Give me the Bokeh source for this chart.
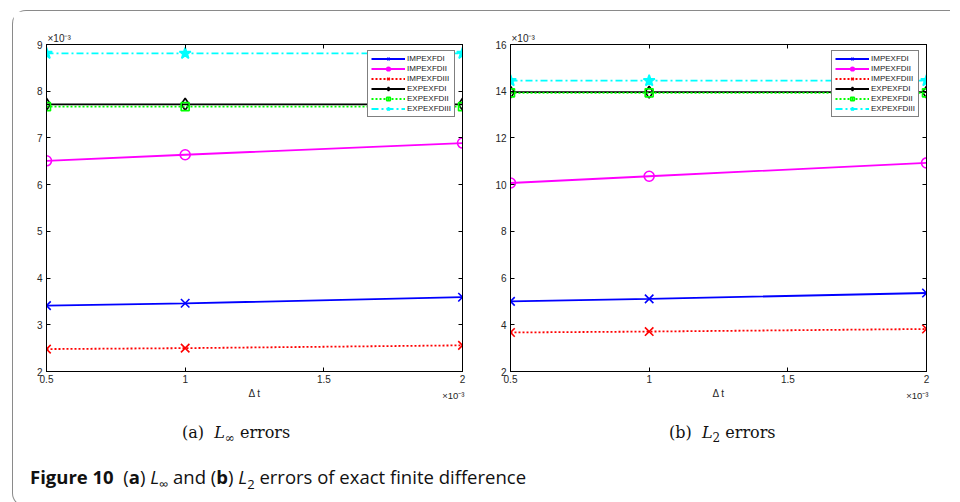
from bokeh.plotting import figure
from bokeh.models import (Range1d, LinearAxis, FixedTicker, Legend, LegendItem,
                          Div, NumeralTickFormatter, Title)
from bokeh.layouts import column, row
from bokeh.embed import file_html
from bokeh.resources import INLINE

# ---------------- data ----------------
dt = [0.5, 1.0, 2.0]                      # Delta t (x 10^-3)
x_ticks = [0.5, 1.0, 1.5, 2.0]
series_names = ["IMPEXFDI", "IMPEXFDII", "IMPEXFDIII",
                "EXPEXFDI", "EXPEXFDII", "EXPEXFDIII"]

# (a) L_inf errors (x 10^-3)
linf_impexfdi = [3.41, 3.46, 3.59]
linf_impexfdii = [6.51, 6.64, 6.89]
linf_impexfdiii = [2.48, 2.50, 2.56]
linf_expexfdi = [7.72, 7.72, 7.72]
linf_expexfdii = [7.67, 7.67, 7.67]
linf_expexfdiii = [8.81, 8.81, 8.81]
linf_yticks = [2, 3, 4, 5, 6, 7, 8, 9]

# (b) L_2 errors (x 10^-3)
l2_impexfdi = [5.00, 5.11, 5.36]
l2_impexfdii = [10.07, 10.36, 10.93]
l2_impexfdiii = [3.67, 3.71, 3.82]
l2_expexfdi = [13.96, 13.96, 13.96]
l2_expexfdii = [13.93, 13.93, 13.93]
l2_expexfdiii = [14.45, 14.45, 14.45]
l2_yticks = [2, 4, 6, 8, 10, 12, 14, 16]

linf_series = [linf_impexfdi, linf_impexfdii, linf_impexfdiii,
               linf_expexfdi, linf_expexfdii, linf_expexfdiii]
l2_series = [l2_impexfdi, l2_impexfdii, l2_impexfdiii,
             l2_expexfdi, l2_expexfdii, l2_expexfdiii]

# ---------------- styles ----------------
STYLES = [
    dict(color="#0000ff", dash="solid", marker="x", size=12, fill=None),
    dict(color="#ff00ff", dash="solid", marker="circle", size=10, fill=None),
    dict(color="#ff0000", dash="2 2", marker="x", size=12, fill=None),
    dict(color="#000000", dash="solid", marker="diamond", size=12, fill=None),
    dict(color="#00ff00", dash="2 2", marker="square", size=8, fill=None),
    dict(color="#00ffff", dash="7 3 2 3", marker="star", size=12, fill="#00ffff"),
]

TICK_FONT = "Liberation Sans"
TICK_COLOR = "#262626"


def make_panel(series, yticks, ymax, left_border):
    p = figure(frame_width=416, frame_height=327,
               x_range=Range1d(0.5, 2.0), y_range=Range1d(2, ymax),
               output_backend="svg", toolbar_location=None,
               min_border_left=left_border, min_border_right=14,
               min_border_top=33, min_border_bottom=30,
               background_fill_color="white", border_fill_color="white")
    p.grid.visible = False
    p.outline_line_color = "black"
    p.outline_line_width = 1

    for ax in (p.xaxis[0], p.yaxis[0]):
        ax.major_tick_in = 4
        ax.major_tick_out = 0
        ax.minor_tick_line_color = None
        ax.axis_line_color = "black"
        ax.major_tick_line_color = "black"
        ax.major_label_text_font = TICK_FONT
        ax.major_label_text_font_size = "10px"
        ax.major_label_text_color = TICK_COLOR
    p.xaxis[0].ticker = FixedTicker(ticks=x_ticks)
    p.xaxis[0].formatter = NumeralTickFormatter(format="0.[0]")
    p.xaxis[0].major_label_standoff = 3
    p.xaxis[0].axis_label = "\u0394 t"
    p.xaxis[0].axis_label_text_font = TICK_FONT
    p.xaxis[0].axis_label_text_font_style = "normal"
    p.xaxis[0].axis_label_text_font_size = "10px"
    p.xaxis[0].axis_label_text_color = TICK_COLOR
    p.xaxis[0].axis_label_standoff = 2
    p.yaxis[0].ticker = FixedTicker(ticks=yticks)
    p.yaxis[0].formatter = NumeralTickFormatter(format="0")
    p.yaxis[0].major_label_standoff = 4

    top = LinearAxis(ticker=FixedTicker(ticks=x_ticks), major_tick_in=4, major_tick_out=0,
                     minor_tick_line_color=None, major_label_text_font_size="1px",
                     major_label_text_alpha=0, major_label_standoff=0)
    right = LinearAxis(ticker=FixedTicker(ticks=yticks), major_tick_in=4, major_tick_out=0,
                       minor_tick_line_color=None, major_label_text_font_size="1px",
                       major_label_text_alpha=0, major_label_standoff=0)
    p.add_layout(top, "above")
    p.add_layout(right, "right")

    # x 10^-3 multiplier above the y axis
    p.add_layout(Title(text="\u00d710\u207b\u00b3", align="left", offset=1,
                       text_font=TICK_FONT, text_font_size="10px",
                       text_font_style="normal", text_color=TICK_COLOR,
                       standoff=1), "above")
    # x 10^-3 multiplier at the right end of the x axis
    p.add_layout(Title(text="\u00d710\u207b\u00b3", align="right", offset=-2,
                       vertical_align="top",
                       text_font=TICK_FONT, text_font_size="9.5px",
                       text_font_style="normal", text_color=TICK_COLOR,
                       standoff=-24), "below")

    items = []
    for name, ys, st in zip(series_names, series, STYLES):
        lr = p.line(dt, ys, line_color=st["color"], line_width=1.8, line_dash=st["dash"])
        sr = p.scatter(dt, ys, marker=st["marker"], size=st["size"],
                       line_color=st["color"], line_width=1.6,
                       fill_color=st["fill"])
        items.append(LegendItem(label=name, renderers=[lr, sr]))

    legend = Legend(items=items, location=(321, 254),
                    label_text_font=TICK_FONT, label_text_font_size="8px",
                    label_text_color="#222222",
                    glyph_width=34, glyph_height=9, label_height=9,
                    label_standoff=2, spacing=1, padding=3, margin=0,
                    border_line_color="black", border_line_width=1,
                    background_fill_color="white", background_fill_alpha=1)
    p.add_layout(legend, "center")
    return p


p1 = make_panel(linf_series, linf_yticks, 9, 33)
p2 = make_panel(l2_series, l2_yticks, 16, 34)

caption_html = """
<div style="position:relative;width:927px;height:95px;">
 <div style="position:absolute;left:164px;top:16px;font-family:'DejaVu Serif';font-size:16px;color:#111;white-space:nowrap;">
   (a)&nbsp;&nbsp;<i>L</i><sub style="font-size:12px;">&infin;</sub> errors</div>
 <div style="position:absolute;left:651px;top:16px;font-family:'DejaVu Serif';font-size:16px;color:#111;white-space:nowrap;">
   (b)&nbsp;&nbsp;<i>L</i><sub style="font-size:12px;">2</sub> errors</div>
 <div style="position:absolute;left:12px;top:58px;font-family:'Open Sans';font-size:18.5px;color:#111;white-space:nowrap;">
   <b>Figure 10</b>&nbsp;&nbsp;(<b>a</b>) <i>L</i><sub style="font-size:13px;">&infin;</sub> and (<b>b</b>) <i>L</i><sub style="font-size:13px;">2</sub> errors of exact finite difference</div>
</div>
"""
captions = Div(text=caption_html, width=927, height=95)

layout = column(row(p1, p2), captions,
                styles={"border-left": "1.5px solid #8a8a8a",
                        "border-top": "1.5px solid #8a8a8a",
                        "border-bottom": "1.5px solid #8a8a8a",
                        "border-radius": "14px 0 0 14px",
                        "margin-left": "12px", "margin-top": "10px"})

open("out.html", "w").write(file_html(layout, INLINE))
